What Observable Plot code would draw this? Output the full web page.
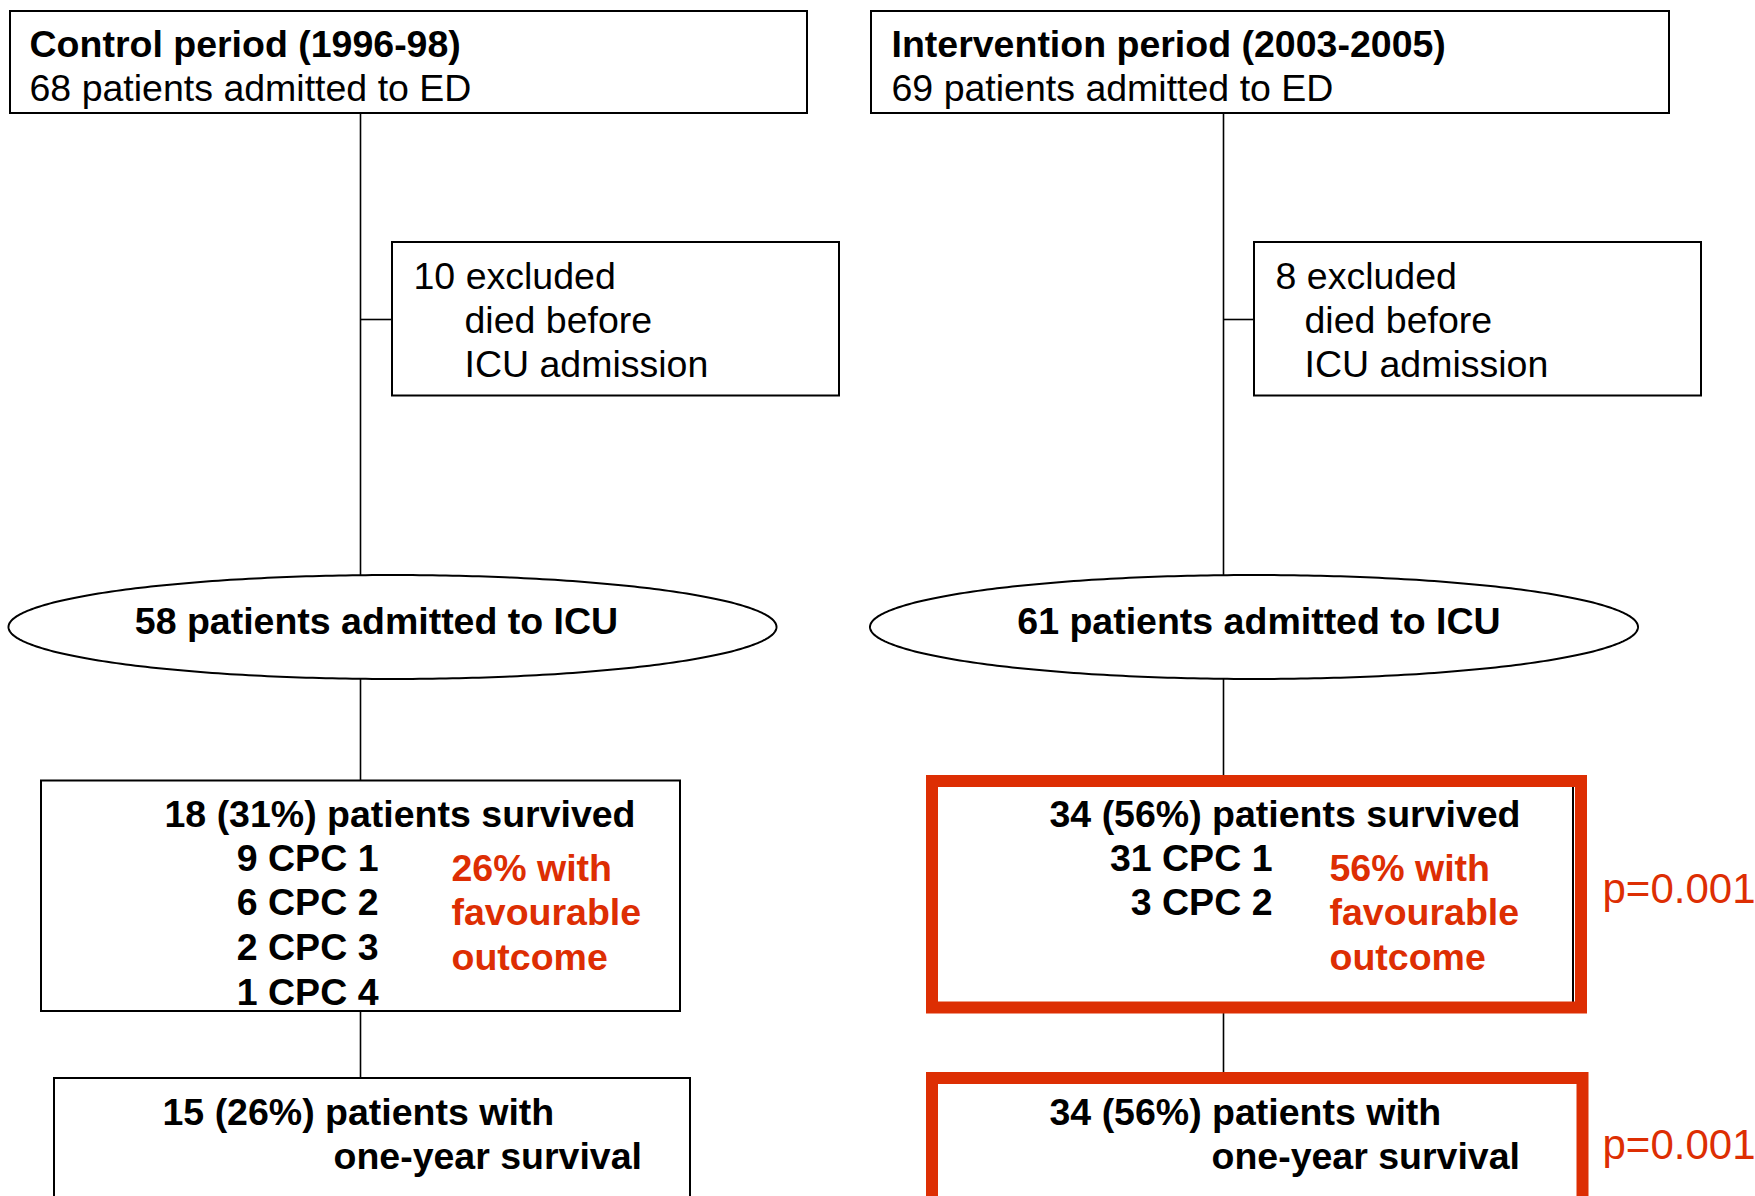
<!DOCTYPE html>
<html><head><meta charset="utf-8">
<script src="https://cdn.jsdelivr.net/npm/d3@7"></script>
<script src="https://cdn.jsdelivr.net/npm/@observablehq/plot@0.6"></script>
<style>html,body{margin:0;padding:0;background:#fff}</style>
</head><body><div id="chart"></div>
<script>
// ---- data ----
const periods = ["Control period (1996-98)", "Intervention period (2003-2005)"];
const admittedED = [68, 69];
const excludedN = [10, 8];
const excludedReason = ["died before", "ICU admission"];
const admittedICU = [58, 61];
const survivedN = [18, 34];
const survivedPct = [31, 56];
const cpcCounts = [[9, 6, 2, 1], [31, 3]];
const cpcLevels = [[1, 2, 3, 4], [1, 2]];
const favourablePct = [26, 56];
const oneYearN = [15, 34];
const oneYearPct = [26, 56];
const highlighted = [false, true];
const pValues = ["p=0.001", "p=0.001"];

// ---- layout (pixels) ----
const W = 1755, H = 1196;
const RED = "#dd2e03";
const FS = 37.5;
const L = [
  {line: 360, top: [10, 807], topX: 29, exc: [392, 839], excX1: 413, excX2: 464, ell: 392, ellX: 376,
   surv: [41, 680], survX: 164, cpcX: 378, redX: 451, one: [54, 690], oneX1: 162, oneX2: 333, lineEnd: 1078},
  {line: 1223, top: [871, 1669], topX: 891, exc: [1254, 1701], excX1: 1275, excX2: 1304, ell: 1253.5, ellX: 1258.5,
   surv: [932, 1581], survX: 1049, cpcX: 1272, redX: 1329, one: [932, 1582.5], oneX1: 1049, oneX2: 1211, lineEnd: 1072}
];
const topY = [11, 113], excY = [242, 395.5], ellCY = 626.5, ellRX = 384, ellRY = 52;
const survY = [780.5, 1011], survRedY = [781, 1007.5], oneY = [1078, 1240];
const cpcBase = [870, 914.5, 959, 1004];
const redBase = [880, 924.5, 969];

// rectangles
const blackRects = [], redRects = [];
L.forEach((c, i) => {
  blackRects.push({x1: c.top[0], x2: c.top[1], y1: topY[0], y2: topY[1]});
  blackRects.push({x1: c.exc[0], x2: c.exc[1], y1: excY[0], y2: excY[1]});
  if (highlighted[i]) {
    blackRects.push({x1: c.surv[0], x2: 1573, y1: survRedY[0], y2: survRedY[1]});
    redRects.push({x1: c.surv[0], x2: c.surv[1], y1: survRedY[0], y2: survRedY[1]});
    redRects.push({x1: c.one[0], x2: c.one[1], y1: oneY[0], y2: oneY[1]});
  } else {
    blackRects.push({x1: c.surv[0], x2: c.surv[1], y1: survY[0], y2: survY[1]});
    blackRects.push({x1: c.one[0], x2: c.one[1], y1: oneY[0], y2: oneY[1]});
  }
});

const vLines = L.map(c => ({x: c.line, y1: topY[1], y2: c.lineEnd}));
const hLines = L.map(c => ({y: 319, x1: c.line, x2: c.exc[0]}));

const ellPts = L.flatMap((c, i) => d3.range(0, 360, 1).map(a => ({
  i, x: c.ell + ellRX * Math.cos(a * Math.PI / 180), y: ellCY + ellRY * Math.sin(a * Math.PI / 180)
})));

// texts
const boldBlack = [], regBlack = [], boldRed = [], regRed = [];
L.forEach((c, i) => {
  boldBlack.push({x: c.topX, y: 56, t: periods[i], a: "start"});
  regBlack.push({x: c.topX, y: 100, t: `${admittedED[i]} patients admitted to ED`, a: "start"});
  regBlack.push({x: c.excX1, y: 288, t: `${excludedN[i]} excluded`, a: "start"});
  excludedReason.forEach((r, k) => regBlack.push({x: c.excX2, y: 332 + 44 * k, t: r, a: "start"}));
  boldBlack.push({x: c.ellX, y: 633, t: `${admittedICU[i]} patients admitted to ICU`, a: "middle"});
  boldBlack.push({x: c.survX, y: 826, t: `${survivedN[i]} (${survivedPct[i]}%) patients survived`, a: "start"});
  cpcCounts[i].forEach((n, k) => boldBlack.push({x: c.cpcX, y: cpcBase[k], t: `${n} CPC ${cpcLevels[i][k]}`, a: "end"}));
  [`${favourablePct[i]}% with`, "favourable", "outcome"].forEach((t, k) => boldRed.push({x: c.redX, y: redBase[k], t, a: "start"}));
  boldBlack.push({x: c.oneX1, y: 1124, t: `${oneYearN[i]} (${oneYearPct[i]}%) patients with`, a: "start"});
  boldBlack.push({x: c.oneX2, y: 1168, t: "one-year survival", a: "start"});
  if (highlighted[i]) {
    regRed.push({x: 1602, y: 902, t: pValues[0], a: "start"});
    regRed.push({x: 1602, y: 1158, t: pValues[1], a: "start"});
  }
});

const txtSplit = (data, weight, fill, size) => ["start", "middle", "end"].map(a =>
  Plot.text(data.filter(d => d.a === a), {x: "x", y: "y", text: "t", textAnchor: a, lineAnchor: "bottom",
    fontSize: size, fontWeight: weight, fill}));

const chart = Plot.plot({
  width: W, height: H,
  margin: 0,
  x: {domain: [0, W], range: [0, W], axis: null},
  y: {domain: [0, H], range: [0, H], axis: null},
  style: {fontFamily: "'Liberation Sans', Arial, Helvetica, sans-serif", background: "#fff", overflow: "hidden"},
  marks: [
    Plot.ruleX(vLines, {x: "x", y1: "y1", y2: "y2", stroke: "#000", strokeWidth: 1.6}),
    Plot.ruleY(hLines, {y: "y", x1: "x1", x2: "x2", stroke: "#000", strokeWidth: 1.6}),
    Plot.line(ellPts, {x: "x", y: "y", z: "i", curve: "linear-closed", fill: "#fff", stroke: "#000", strokeWidth: 2}),
    Plot.rect(blackRects, {x1: "x1", x2: "x2", y1: "y1", y2: "y2", fill: "#fff", stroke: "#000", strokeWidth: 2}),
    Plot.rect(redRects, {x1: "x1", x2: "x2", y1: "y1", y2: "y2", fill: "none", stroke: RED, strokeWidth: 12}),
    ...txtSplit(boldBlack, "bold", "#000", FS),
    ...txtSplit(regBlack, "normal", "#000", FS),
    ...txtSplit(boldRed, "bold", RED, FS),
    ...txtSplit(regRed, "normal", RED, 42)
  ]
});
document.getElementById("chart").append(chart);
</script>
</body></html>
